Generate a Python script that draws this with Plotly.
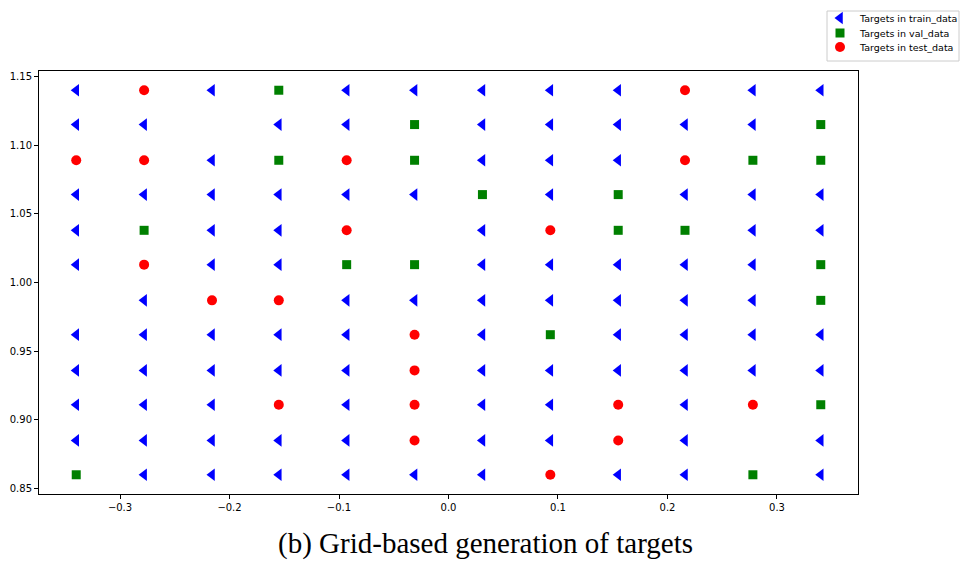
import plotly.graph_objects as go

# Grid coordinates of the candidate targets
x_vals = [-0.34, -0.278, -0.216, -0.155, -0.093, -0.031, 0.031, 0.093, 0.155, 0.216, 0.278, 0.34]
y_vals = [1.14, 1.115, 1.089, 1.064, 1.038, 1.013, 0.987, 0.962, 0.936, 0.911, 0.885, 0.86]

# Split assignment per grid row (top row first): T=train, V=val, E=test, .=unused
split_rows = [
    "T E T V T T T T T E T T",
    "T T . T T V T T T T T V",
    "E E T V E V T T T E V V",
    "T T T T T T V T V T T T",
    "T V T T E . T E V V T T",
    "T E T T V V T T T T T V",
    ". T E E T T T T T T T V",
    "T T T T T E T V T T T T",
    "T T T T T E T T T T T T",
    "T T T E T E T T E T E V",
    "T T T T T E T T E T . T",
    "V T T T T T T E T T V T",
]

series = [
    ("T", "Targets in train_data", "triangle-left", "blue", 11),
    ("V", "Targets in val_data", "square", "green", 9),
    ("E", "Targets in test_data", "circle", "red", 10),
]

W, H = 960, 561
# Plot frame in pixels (left, right, top, bottom)
FL, FR, FT, FB = 39, 858, 71, 494

fig = go.Figure()
for code, name, symbol, color, size in series:
    xs, ys = [], []
    for yv, row in zip(y_vals, split_rows):
        for xv, c in zip(x_vals, row.split()):
            if c == code:
                xs.append(xv)
                ys.append(yv)
    fig.add_trace(go.Scatter(
        x=xs, y=ys, mode="markers", name=name, showlegend=False,
        marker=dict(symbol=symbol, color=color, size=size, line=dict(width=0)),
    ))

# Legend drawn on an overlay axis spanning the whole page, in pixel units
LEG_L, LEG_R, LEG_T, LEG_B = 827, 959, 11, 61
leg_rows = [18, 33, 47]
for (code, name, symbol, color, size), yy in zip(series, leg_rows):
    fig.add_trace(go.Scatter(
        x=[840], y=[yy], mode="markers", xaxis="x2", yaxis="y2", showlegend=False,
        marker=dict(symbol=symbol, color=color, size=size, line=dict(width=0)),
        hoverinfo="skip",
    ))

axis_common = dict(
    showgrid=False, zeroline=False, showline=True, linecolor="black", linewidth=1,
    mirror=True, ticks="outside", ticklen=4, tickwidth=1, tickcolor="black",
    tickfont=dict(family="DejaVu Sans", size=10, color="black"),
)

annotations = [
    dict(text=name, x=857, y=yy, xref="x2", yref="y2", xanchor="left", yanchor="middle",
         showarrow=False, font=dict(family="DejaVu Sans", size=9.5, color="black"))
    for (code, name, symbol, color, size), yy in zip(series, leg_rows)
]
annotations.append(dict(
    text="(b) Grid-based generation of targets",
    x=485 / W, y=1 - 543 / H, xref="paper", yref="paper",
    xanchor="center", yanchor="middle", showarrow=False,
    font=dict(family="Liberation Serif", size=29, color="black"),
))

fig.update_layout(
    width=W, height=H,
    margin=dict(l=0, r=0, t=0, b=0, autoexpand=False),
    paper_bgcolor="white", plot_bgcolor="rgba(0,0,0,0)",
    showlegend=False,
    xaxis=dict(domain=[FL / W, FR / W], range=[-0.374, 0.374],
               tickvals=[-0.3, -0.2, -0.1, 0.0, 0.1, 0.2, 0.3], tickformat=".1f", **axis_common),
    yaxis=dict(domain=[1 - FB / H, 1 - FT / H], range=[0.846, 1.154],
               tickvals=[0.85, 0.90, 0.95, 1.00, 1.05, 1.10, 1.15], tickformat=".2f", **axis_common),
    xaxis2=dict(domain=[0, 1], range=[0, W], visible=False, anchor="y2", fixedrange=True),
    yaxis2=dict(domain=[0, 1], range=[H, 0], visible=False, anchor="x2", fixedrange=True),
    shapes=[dict(type="rect", xref="x2", yref="y2", x0=LEG_L, x1=LEG_R, y0=LEG_T, y1=LEG_B,
                 line=dict(color="#cccccc", width=1), fillcolor="rgba(255,255,255,0.8)", layer="below")],
    annotations=annotations,
)

fig.write_html("out.html")
